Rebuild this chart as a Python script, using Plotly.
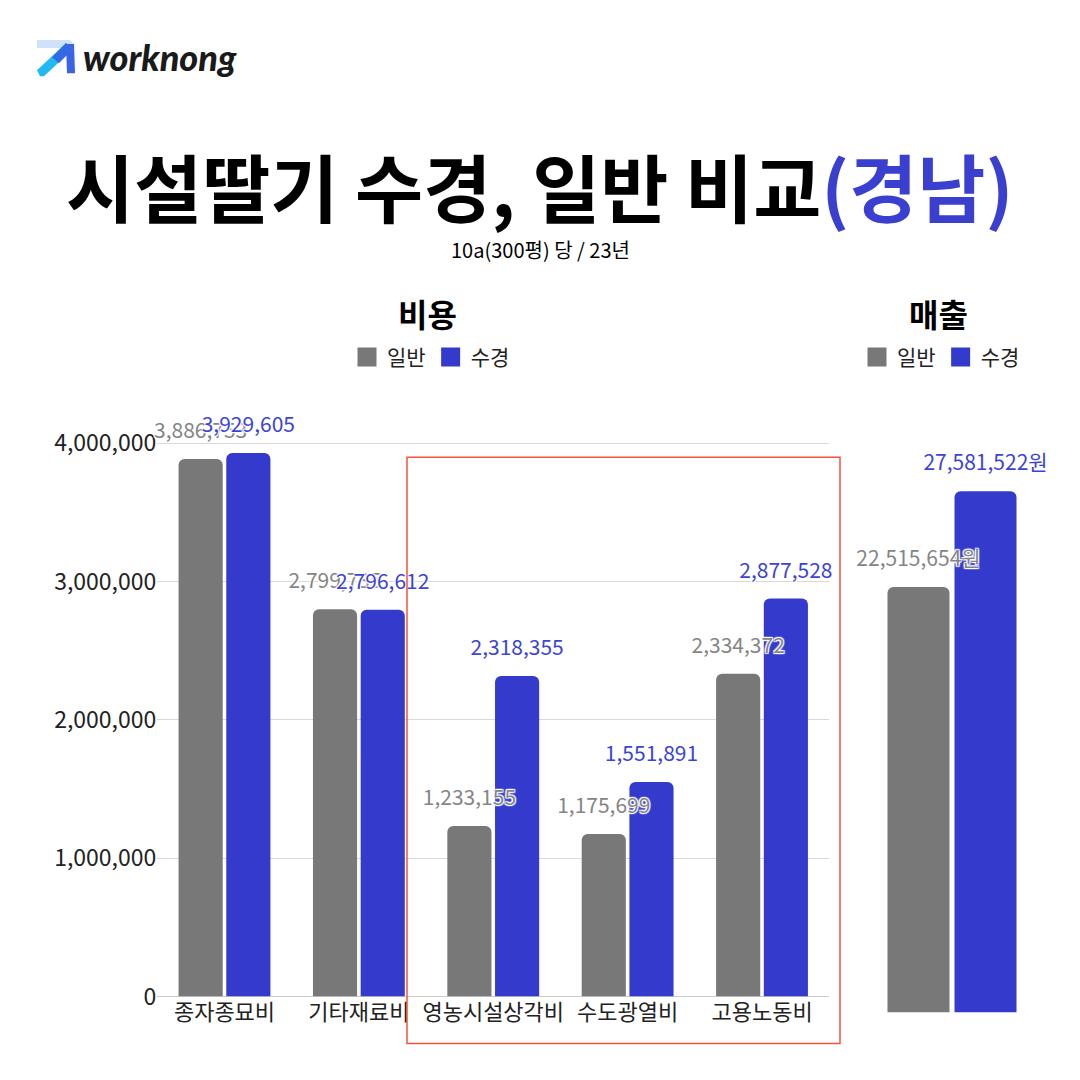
import plotly.graph_objects as go

# ---------------- data ----------------
cost_categories = ["종자종묘비", "기타재료비", "영농시설상각비", "수도광열비", "고용노동비"]
cost_general = [3886753, 2799735, 1233155, 1175699, 2334372]
cost_hydro = [3929605, 2796612, 2318355, 1551891, 2877528]

revenue_category = ["매출"]
revenue_general = [22515654]
revenue_hydro = [27581522]

series_names = ["일반", "수경"]
cost_ticks = [0, 1000000, 2000000, 3000000, 4000000]

# ---------------- style ----------------
GRAY = "#787878"
BLUE = "#343bcc"
GRAY_TXT = "#858585"
BLUE_TXT = "#3c45d2"
FONT = "Noto Sans CJK KR"
HALO = "1px 1px 1px #fff, -1px -1px 1px #fff, 1px -1px 1px #fff, -1px 1px 1px #fff, 0px 0px 2px #fff"

W = H = 1080
VS, VO = 0.981, 4.9   # vertical photo correction
def py(pix):  # target picture y (px) -> paper
    return (H - (pix - VO) / VS) / H
def px(pix):
    return pix / W

cost_xdom = [px(157.3), px(829.2)]
cost_ymax = 4100000
cost_ydom = [py(996), py(996 - 138.25 * cost_ymax / 1e6)]
rev_xdom = [px(857.6), px(1046.4)]
rev_ymax = 30000000
rev_ydom = [py(1012), py(1012 - 18.89 * rev_ymax / 1e6)]
shift_p = 12 / VS / H  # label lift

fig = go.Figure()

fig.add_trace(go.Bar(x=cost_categories, y=cost_general, name=series_names[0],
                     marker=dict(color=GRAY, line=dict(width=0)), showlegend=False, xaxis="x", yaxis="y"))
fig.add_trace(go.Bar(x=cost_categories, y=cost_hydro, name=series_names[1],
                     marker=dict(color=BLUE, line=dict(width=0)), showlegend=False, xaxis="x", yaxis="y"))
fig.add_trace(go.Bar(x=revenue_category, y=revenue_general, name=series_names[0],
                     marker=dict(color=GRAY, line=dict(width=0)), showlegend=False, xaxis="x2", yaxis="y2"))
fig.add_trace(go.Bar(x=revenue_category, y=revenue_hydro, name=series_names[1],
                     marker=dict(color=BLUE, line=dict(width=0)), showlegend=False, xaxis="x2", yaxis="y2"))

for vals, col in [(cost_general, GRAY_TXT), (cost_hydro, BLUE_TXT)]:
    fig.add_trace(go.Bar(x=cost_categories, y=vals,
                         marker=dict(color="rgba(0,0,0,0)", line=dict(width=0)),
                         text=[f"{v:,}" for v in vals], textposition="outside",
                         constraintext="none",
                         textfont=dict(color=col, size=21, family=FONT, shadow=HALO),
                         cliponaxis=False, showlegend=False, hoverinfo="skip",
                         xaxis="x3", yaxis="y3"))
for vals, col in [(revenue_general, GRAY_TXT), (revenue_hydro, BLUE_TXT)]:
    fig.add_trace(go.Bar(x=revenue_category, y=vals,
                         marker=dict(color="rgba(0,0,0,0)", line=dict(width=0)),
                         text=[f"{v:,}원" for v in vals], textposition="outside",
                         constraintext="none",
                         textfont=dict(color=col, size=21, family=FONT, shadow=HALO),
                         cliponaxis=False, showlegend=False, hoverinfo="skip",
                         xaxis="x4", yaxis="y4"))

for nm, col, lg in [(series_names[0], GRAY, "legend"), (series_names[1], BLUE, "legend"),
                    (series_names[0], GRAY, "legend2"), (series_names[1], BLUE, "legend2")]:
    fig.add_trace(go.Scatter(x=[None], y=[None], mode="markers", name=nm, legend=lg,
                             marker=dict(symbol="square", size=16, color=col,
                                         line=dict(color=col, width=3)),
                             xaxis="x", yaxis="y", hoverinfo="skip"))

common_x = dict(showgrid=False, zeroline=False, showline=False, ticks="")
fig.update_layout(
    width=W, height=H,
    margin=dict(l=0, r=0, t=0, b=0),
    paper_bgcolor="white", plot_bgcolor="rgba(0,0,0,0)",
    font=dict(family=FONT, color="#222"),
    barmode="group", bargap=0.29, bargroupgap=0.075,
    barcornerradius=6,
    xaxis=dict(domain=cost_xdom, **common_x, tickfont=dict(size=22, color="#222")),
    yaxis=dict(domain=cost_ydom, range=[0, cost_ymax], tickvals=cost_ticks,
               tickformat=",", showgrid=True, gridcolor="#d9d9d9", gridwidth=1,
               zeroline=True, zerolinecolor="#cccccc", zerolinewidth=1,
               showline=False, ticks="", tickfont=dict(size=23, color="#222")),
    xaxis2=dict(domain=rev_xdom, **common_x, showticklabels=False, anchor="y2"),
    yaxis2=dict(domain=rev_ydom, range=[0, rev_ymax], showgrid=False, zeroline=False,
                showticklabels=False, anchor="x2"),
    xaxis3=dict(domain=cost_xdom, **common_x, showticklabels=False, anchor="y3"),
    yaxis3=dict(domain=[cost_ydom[0] + shift_p, cost_ydom[1] + shift_p], range=[0, cost_ymax],
                showgrid=False, zeroline=False, showticklabels=False, anchor="x3"),
    xaxis4=dict(domain=rev_xdom, **common_x, showticklabels=False, anchor="y4"),
    yaxis4=dict(domain=[rev_ydom[0] + shift_p, rev_ydom[1] + shift_p], range=[0, rev_ymax],
                showgrid=False, zeroline=False, showticklabels=False, anchor="x4"),
    legend=dict(orientation="h", x=px(431), xanchor="center", y=py(357), yanchor="middle",
                font=dict(size=21, color="#222"), itemwidth=30, bgcolor="rgba(0,0,0,0)"),
    legend2=dict(orientation="h", x=px(941), xanchor="center", y=py(357), yanchor="middle",
                 font=dict(size=21, color="#222"), itemwidth=30, bgcolor="rgba(0,0,0,0)"),
    showlegend=True,
)

annotations = [
    dict(text="시설딸기 수경, 일반 비교<span style='color:#3a3fd0'>(경남)</span>",
         x=px(539), y=py(184), xref="paper", yref="paper", showarrow=False,
         xanchor="center", yanchor="middle",
         font=dict(size=74, color="#000", family=FONT, weight=700)),
    dict(text="10a(300평) 당 / 23년", x=px(540), y=py(249), xref="paper", yref="paper",
         showarrow=False, xanchor="center", yanchor="middle",
         font=dict(size=20, color="#000", family=FONT)),
    dict(text="<b>비용</b>", x=px(427), y=py(313), xref="paper", yref="paper",
         showarrow=False, xanchor="center", yanchor="middle",
         font=dict(size=32, color="#000", family=FONT)),
    dict(text="<b>매출</b>", x=px(938), y=py(313), xref="paper", yref="paper",
         showarrow=False, xanchor="center", yanchor="middle",
         font=dict(size=32, color="#000", family=FONT)),
    dict(text="worknong", x=px(81), y=py(57), xref="paper", yref="paper",
         showarrow=False, xanchor="left", yanchor="middle",
         font=dict(size=36, color="#1a1a1a", family="Lato", weight=900, style="italic")),
]
fig.update_layout(annotations=annotations)

def pth(points):
    return "M " + " L ".join(f"{px(a)},{py(b)}" for a, b in points) + " Z"

shapes = [
    dict(type="rect", xref="paper", yref="paper", x0=px(407), x1=px(840), y0=py(1043), y1=py(457),
         line=dict(color="#f2553a", width=1.5), fillcolor="rgba(0,0,0,0)"),
    dict(type="path", xref="paper", yref="paper", path=pth([(37, 40), (70, 40), (74, 44), (74, 48), (37, 48)]),
         fillcolor="#cfe2fb", line=dict(width=0)),
    dict(type="path", xref="paper", yref="paper", path=pth([(66, 44), (74, 44), (75, 73), (67, 73)]),
         fillcolor="#3a63e6", line=dict(width=0)),
    dict(type="path", xref="paper", yref="paper", path=pth([(37, 70), (66, 43), (73, 49), (44, 76), (40, 76)]),
         fillcolor="#22b8f3", line=dict(width=0)),
    dict(type="path", xref="paper", yref="paper", path=pth([(52, 57), (66, 43), (73, 49), (59, 63)]),
         fillcolor="#3b55e0", line=dict(width=0), opacity=0.8),
]
fig.update_layout(shapes=shapes)

css_fix = (
    "var s=document.createElement('style');"
    "s.textContent='html,body{margin:0;padding:0;overflow:hidden;}';"
    "document.head.appendChild(s);"
)
fig.write_html("out.html", config={"displayModeBar": False}, post_script=css_fix)
